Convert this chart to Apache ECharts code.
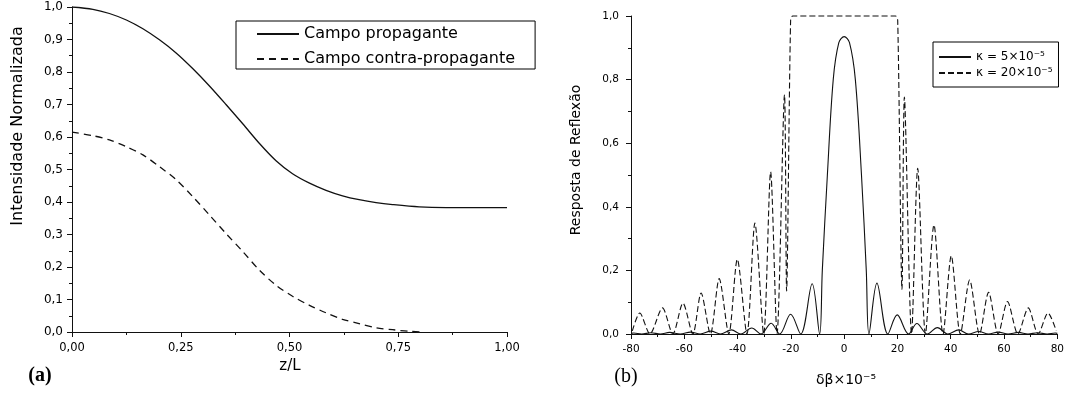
<!DOCTYPE html>
<html><head><meta charset="utf-8">
<script src="https://cdn.jsdelivr.net/npm/echarts@6/dist/echarts.min.js"></script>
<style>html,body{margin:0;padding:0;background:#fff}#c{width:1067px;height:398px}</style>
</head><body><div id="c"></div>
<script>
// ---------- Panel (a) data ----------
const propZ = [0, 0.048, 0.086, 0.125, 0.163, 0.201, 0.240, 0.278, 0.316, 0.354, 0.393, 0.431, 0.469, 0.507, 0.546, 0.584, 0.622, 0.660, 0.699, 0.737, 0.798, 0.860, 0.920, 1.0];
const propI = [1.0, 0.993, 0.980, 0.960, 0.933, 0.899, 0.858, 0.810, 0.757, 0.700, 0.640, 0.580, 0.527, 0.487, 0.458, 0.436, 0.419, 0.407, 0.398, 0.392, 0.385, 0.383, 0.383, 0.383];
const contraZ = [0, 0.048, 0.086, 0.125, 0.163, 0.201, 0.240, 0.278, 0.316, 0.354, 0.393, 0.431, 0.469, 0.507, 0.546, 0.584, 0.622, 0.660, 0.699, 0.737, 0.776, 0.810];
const contraI = [0.615, 0.604, 0.591, 0.570, 0.545, 0.509, 0.468, 0.416, 0.360, 0.303, 0.247, 0.190, 0.144, 0.110, 0.082, 0.059, 0.039, 0.026, 0.013, 0.007, 0.002, 0.0];

// ---------- Panel (b) data ----------
const k5X = [-80, -79, -76, -72.5, -69, -65.5, -61.5, -57.7, -54, -50, -46.5, -42.3, -38.8, -34.7, -31.2, -27.4, -24.2, -20.1, -16.3, -12.0, -9.2, -8.2, -6.3, -4.1, -2, 0, 2, 4.2, 6.5, 8.3, 9.3, 12.3, 16.4, 19.9, 24.2, 27.3, 31.2, 35, 38.9, 43.0, 46.7, 50.5, 54.2, 57.8, 61.5, 65.4, 69, 72.6, 76.2, 79.2, 80];
const k5R = [0.002, 0.003, 0, 0.004, 0, 0.005, 0, 0.006, 0, 0.009, 0, 0.013, 0, 0.019, 0, 0.034, 0, 0.062, 0, 0.158, 0, 0.2, 0.5, 0.8, 0.916, 0.935, 0.916, 0.8, 0.5, 0.2, 0, 0.16, 0, 0.06, 0, 0.033, 0, 0.02, 0, 0.013, 0, 0.008, 0, 0.006, 0, 0.005, 0, 0.004, 0, 0.003, 0.002];
const k20X = [-79.5, -76.7, -72.9, -68.2, -64.3, -60.5, -56.8, -53.7, -50.2, -46.9, -43.3, -40.1, -36.5, -33.5, -30.2, -27.6, -25.2, -22.4, -21.6, -20.1, -19.3, 19.3, 20.1, 21.7, 22.6, 25.3, 27.6, 30.5, 33.7, 37.1, 40.2, 43.6, 47.1, 50.8, 54.2, 57.8, 61.3, 65.2, 69.1, 72.8, 76.5, 79.6];
const k20R = [0.01, 0.066, 0, 0.082, 0, 0.097, 0, 0.129, 0, 0.174, 0, 0.235, 0, 0.349, 0, 0.51, 0, 0.753, 0.135, 0.985, 1.0, 1.0, 0.985, 0.14, 0.745, 0, 0.521, 0, 0.343, 0, 0.246, 0, 0.17, 0, 0.131, 0, 0.102, 0, 0.082, 0, 0.066, 0.01];

// ---------- Labels ----------
const nameProp = 'Campo propagante';
const nameContra = 'Campo contra-propagante';
const nameK5 = 'κ = 5×10⁻⁵';
const nameK20 = 'κ = 20×10⁻⁵';
const titleA_Y = 'Intensidade Normalizada';
const titleA_X = 'z/L';
const titleB_Y = 'Resposta de Reflexão';
const titleB_X = 'δβ×10⁻⁵';

const zip = (xs, ys) => xs.map((x, i) => [x, ys[i]]);
const FONT = "'DejaVu Sans'";
const INK = '#111';

function axis(gridIndex, min, max, interval, fmt, fontSize, margin) {
  return {
    type: 'value', gridIndex, min, max, interval,
    axisLine: { show: true, onZero: false, lineStyle: { color: INK, width: 1 } },
    axisTick: { show: true, length: 5, lineStyle: { color: INK } },
    minorTick: { show: true, splitNumber: 2, length: 3, lineStyle: { color: INK } },
    splitLine: { show: false }, minorSplitLine: { show: false },
    axisLabel: { formatter: fmt, fontFamily: FONT, fontSize, color: '#000', margin }
  };
}
const comma = d => v => v.toFixed(d).replace('.', ',');
const hiddenSymbol = { opacity: 0, color: 'transparent', borderWidth: 0 };

const chart = echarts.init(document.getElementById('c'), null, { renderer: 'canvas' });
chart.setOption({
  animation: false,
  backgroundColor: '#fff',
  grid: [
    { left: 72, top: 7, width: 435, height: 325 },
    { left: 631, top: 16, width: 430, height: 318 }
  ],
  xAxis: [
    axis(0, 0, 1, 0.25, comma(2), 11.5, 10),
    axis(1, -80, 80, 20, v => String(v), 10.5, 10)
  ],
  yAxis: [
    axis(0, 0, 1, 0.1, comma(1), 12, 9),
    axis(1, 0, 1, 0.2, comma(1), 10.5, 12)
  ],
  legend: [
    {
      data: [nameProp, nameContra], orient: 'vertical', left: 236, top: 21,
      itemWidth: 42, itemHeight: 16, itemGap: 9, padding: [5, 20, 2, 20],
      itemStyle: hiddenSymbol,
      textStyle: { fontFamily: FONT, fontSize: 16, color: '#000' },
      borderColor: '#000', borderWidth: 1, borderRadius: 0, backgroundColor: '#fff'
    },
    {
      data: [nameK5, nameK20], orient: 'vertical', left: 933, top: 42,
      itemWidth: 32, itemHeight: 12, itemGap: 4, padding: [9, 6, 8, 5],
      itemStyle: hiddenSymbol,
      textStyle: { fontFamily: FONT, fontSize: 12, color: '#000' },
      borderColor: '#000', borderWidth: 1, borderRadius: 0, backgroundColor: '#fff'
    }
  ],
  series: [
    { name: nameProp, type: 'line', xAxisIndex: 0, yAxisIndex: 0, data: zip(propZ, propI),
      symbol: 'none', smooth: 0.3, lineStyle: { color: INK, width: 1.3, type: 'solid' }, itemStyle: { color: INK } },
    { name: nameContra, type: 'line', xAxisIndex: 0, yAxisIndex: 0, data: zip(contraZ, contraI),
      symbol: 'none', smooth: 0.3, lineStyle: { color: INK, width: 1.3, type: [7, 5] }, itemStyle: { color: INK } },
    { name: nameK5, type: 'line', xAxisIndex: 1, yAxisIndex: 1, data: zip(k5X, k5R),
      symbol: 'none', smooth: 0.35, lineStyle: { color: INK, width: 1.1, type: 'solid' }, itemStyle: { color: INK } },
    { name: nameK20, type: 'line', xAxisIndex: 1, yAxisIndex: 1, data: zip(k20X, k20R), clip: false,
      symbol: 'none', smooth: 0.28, lineStyle: { color: INK, width: 1.1, type: [6, 3] }, itemStyle: { color: INK } }
  ],
  graphic: [
    { type: 'text', x: 18, y: 126, rotation: Math.PI / 2,
      style: { text: titleA_Y, font: "16px 'DejaVu Sans'", fill: '#000', align: 'center', verticalAlign: 'middle' } },
    { type: 'text', x: 290, y: 366,
      style: { text: titleA_X, font: "15px 'DejaVu Sans'", fill: '#000', align: 'center', verticalAlign: 'middle' } },
    { type: 'text', x: 40, y: 376,
      style: { text: '(a)', font: "bold 20px 'Liberation Serif'", fill: '#000', align: 'center', verticalAlign: 'middle' } },
    { type: 'text', x: 576, y: 160, rotation: Math.PI / 2,
      style: { text: titleB_Y, font: "14px 'DejaVu Sans'", fill: '#000', align: 'center', verticalAlign: 'middle' } },
    { type: 'text', x: 846, y: 380,
      style: { text: titleB_X, font: "14px 'DejaVu Sans'", fill: '#000', align: 'center', verticalAlign: 'middle' } },
    { type: 'text', x: 626, y: 377,
      style: { text: '(b)', font: "20px 'Liberation Serif'", fill: '#000', align: 'center', verticalAlign: 'middle' } }
  ]
});
</script>
</body></html>
